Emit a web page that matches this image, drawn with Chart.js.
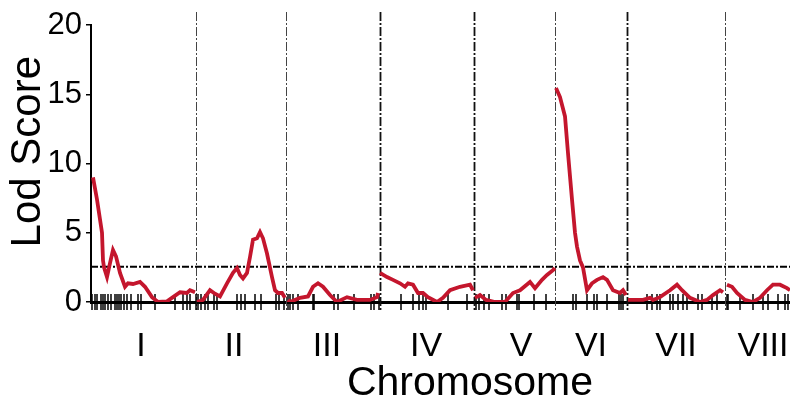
<!DOCTYPE html>
<html>
<head>
<meta charset="utf-8">
<script src="https://cdn.jsdelivr.net/npm/chart.js@4"></script>
<style>
  body { margin: 0; background: #fff; }
  #wrap { width: 790px; height: 403px; }
</style>
</head>
<body>
<div id="wrap"><canvas id="lodChart" width="790" height="403"></canvas></div>
<script>
// LOD profile along the genome (cumulative position), null = break between chromosomes
const positions = [
  2, 6, 11, 12, 13, 16, 19, 22, 25, 29, 34, 37, 42, 49, 54, 61, 67, 76, 82, 89, 96, 99, 104,
  105,
  106, 112, 119, 124, 129, 136, 142, 146, 149, 152, 156, 159, 162, 166, 169, 172, 176, 181, 184, 187, 191, 194,
  195,
  197, 199, 209, 217, 222, 227, 232, 239, 246, 256, 266, 279, 286, 287,
  288,
  289, 296, 302, 309, 314, 317, 322, 327, 332, 337, 346, 352, 359, 369, 379, 382,
  383,
  384, 389, 395, 404, 414, 422, 429, 439, 444, 451, 456, 462, 464,
  464.5,
  465, 469, 474, 477, 481, 484, 486, 489, 492, 496, 501, 506, 512, 516, 522, 529, 532, 535,
  536,
  537, 552, 559, 562, 569, 579, 586, 591, 599, 609, 616, 622, 629, 632,
  634,
  636, 641, 646, 654, 662, 669, 676, 682, 689, 696, 699
];
const lodScores = [
  9.0, 7.4, 5.0, 3.0, 2.5, 1.8, 2.8, 3.75, 3.3, 2.1, 1.1, 1.35, 1.3, 1.45, 1.1, 0.35, 0.0, 0.05, 0.35, 0.7, 0.65, 0.85, 0.7,
  null,
  0.0, 0.15, 0.85, 0.6, 0.4, 1.35, 2.1, 2.45, 1.95, 1.7, 2.1, 3.25, 4.5, 4.6, 5.05, 4.6, 3.5, 1.8, 0.85, 0.65, 0.65, 0.3,
  null,
  0.15, 0.0, 0.3, 0.4, 1.1, 1.35, 1.1, 0.5, 0.0, 0.35, 0.15, 0.15, 0.35, 0.65,
  null,
  2.1, 1.8, 1.6, 1.35, 1.1, 1.35, 1.25, 0.65, 0.65, 0.35, 0.0, 0.3, 0.85, 1.1, 1.25, 0.85,
  null,
  0.3, 0.5, 0.15, 0.0, 0.0, 0.65, 0.85, 1.45, 1.0, 1.6, 1.95, 2.3, 2.45,
  null,
  15.45, 14.8, 13.4, 10.75, 7.4, 5.0, 4.0, 3.0, 2.5, 0.85, 1.35, 1.6, 1.8, 1.6, 0.85, 0.65, 0.85, 0.5,
  null,
  0.15, 0.15, 0.3, 0.15, 0.35, 0.85, 1.25, 0.85, 0.3, 0.0, 0.15, 0.5, 0.85, 0.7,
  null,
  1.25, 1.1, 0.65, 0.15, 0.0, 0.3, 0.85, 1.25, 1.25, 1.0, 0.85
];

// marker positions (rug under the axis)
const markers = [
  1, 4, 6, 10, 12, 14, 17, 20, 24, 26, 28, 30, 33, 36, 40, 47, 50, 64, 84, 92, 96, 99,
  105, 107, 110, 114, 117, 123, 126, 146, 150, 154, 164, 170,
  185, 188, 193, 197, 199, 202, 207, 222, 223, 243, 247, 263, 280, 283, 288,
  310, 322, 328, 332, 335,
  357, 376, 385, 388, 393, 398, 411, 415, 426, 428, 443, 455,
  482, 485, 496, 503, 506, 516, 528, 530, 532,
  556, 561, 566, 569, 579, 582, 587, 592, 596, 607, 611, 621, 626,
  636, 637, 649, 662, 672, 677, 687, 694, 697
];

const chromosomes = ['I', 'II', 'III', 'IV', 'V', 'VI', 'VII', 'VIII'];
const labelPositions = [50, 143, 236, 335, 430, 500, 585, 672];
const boundaries = [105, 195, 289, 383, 464, 536, 634];
const genomeLength = 699;
const threshold = 2.55;

const FONT = 'Arial, "Liberation Sans", sans-serif';
Chart.defaults.color = '#000';
Chart.defaults.font.family = FONT;

// dash-dot chromosome separators
const separators = {
  id: 'separators',
  beforeDatasetsDraw(chart) {
    const { ctx, chartArea, scales } = chart;
    ctx.save();
    ctx.setLineDash([9, 2, 2, 2]);
    boundaries.forEach((b, i) => {
      const x = Math.round(scales.x.getPixelForValue(b)) + 0.5;
      const dark = (i === 2 || i === 3 || i === 5);
      ctx.strokeStyle = dark ? '#111' : '#444';
      ctx.lineWidth = dark ? 1.8 : 1;
      ctx.beginPath();
      ctx.moveTo(x, chartArea.top - 13);
      ctx.lineTo(x, chartArea.bottom + 8);
      ctx.stroke();
    });
    ctx.restore();
  }
};

// axis titles, placed a bit off-centre like the original figure
const axisTitles = {
  id: 'axisTitles',
  afterDraw(chart) {
    const { ctx, scales } = chart;
    ctx.save();
    ctx.fillStyle = '#000';
    ctx.textAlign = 'center';
    ctx.textBaseline = 'middle';
    ctx.font = '41px ' + FONT;
    ctx.fillText('Chromosome', scales.x.getPixelForValue(379), 384);
    ctx.translate(28, scales.y.getPixelForValue(10.85));
    ctx.rotate(-Math.PI / 2);
    ctx.font = '42px ' + FONT;
    ctx.fillText('Lod Score', 0, 0);
    ctx.restore();
  }
};

new Chart(document.getElementById('lodChart'), {
  type: 'line',
  data: {
    datasets: [
      {
        label: 'LOD',
        data: positions.map((p, i) => ({ x: p, y: lodScores[i] })),
        borderColor: '#c4162d',
        borderWidth: 3.8,
        pointRadius: 0,
        spanGaps: false,
        tension: 0
      },
      {
        label: 'threshold',
        data: [{ x: 0, y: threshold }, { x: genomeLength, y: threshold }],
        borderColor: '#000',
        borderWidth: 2,
        borderDash: [7, 2, 2, 2],
        pointRadius: 0
      },
      {
        label: 'markers',
        data: markers.map(m => ({ x: m, y: 0 })),
        showLine: false,
        pointStyle: 'line',
        rotation: 90,
        radius: 8,
        borderColor: '#000',
        borderWidth: 1.5,
        clip: false
      }
    ]
  },
  options: {
    responsive: false,
    animation: false,
    layout: { autoPadding: false, padding: { top: 25, right: 0, left: 0, bottom: 0 } },
    plugins: {
      legend: { display: false },
      tooltip: { enabled: false }
    },
    scales: {
      x: {
        type: 'linear',
        min: 0,
        max: genomeLength,
        afterFit: s => { s.height = 101; s.paddingLeft = 0; s.paddingRight = 0; },
        afterBuildTicks: s => { s.ticks = labelPositions.map(v => ({ value: v })); },
        grid: { display: false, drawTicks: false },
        border: { display: true, color: '#000', width: 3 },
        ticks: {
          autoSkip: false,
          maxRotation: 0,
          padding: 24,
          font: { size: 34 },
          callback: (v, i) => chromosomes[i]
        }
      },
      y: {
        min: 0,
        max: 20,
        afterFit: s => { s.width = 91; },
        grid: { drawOnChartArea: false, tickLength: 5, color: '#000', lineWidth: 1.5 },
        border: { display: true, color: '#000', width: 2 },
        ticks: {
          stepSize: 2.5,
          padding: 4,
          font: { size: 31 },
          callback: v => (v % 5 === 0 ? v : '')
        }
      }
    }
  },
  plugins: [separators, axisTitles]
});
</script>
</body>
</html>
